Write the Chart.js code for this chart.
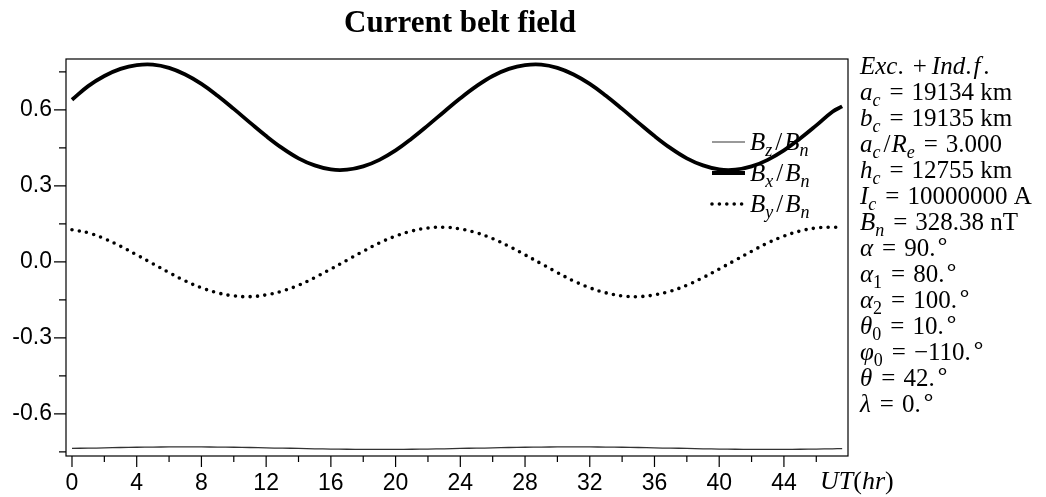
<!DOCTYPE html>
<html>
<head>
<meta charset="utf-8">
<script src="https://cdn.jsdelivr.net/npm/chart.js@4.4.0/dist/chart.umd.min.js"></script>
<style>
  html, body { margin: 0; background: #fff; }
</style>
</head>
<body>
<canvas id="beltChart" width="1046" height="497"></canvas>
<script>
// field components along the orbit, normalised by B_n
const hours = [0, 1, 2, 3, 4, 5, 6, 7, 8, 9, 10, 11, 12, 13, 14, 15, 16, 17, 18, 19, 20, 21, 22, 23,
  24, 25, 26, 27, 28, 29, 30, 31, 32, 33, 34, 35, 36, 37, 38, 39, 40, 41, 42, 43, 44, 45, 46, 47, 47.6];

const bzRatio = [-0.736, -0.735, -0.734, -0.7325, -0.7315, -0.7307, -0.7302, -0.730, -0.7302, -0.7307, -0.7315, -0.7325,
  -0.734, -0.735, -0.736, -0.7375, -0.7385, -0.7393, -0.7398, -0.740, -0.7398, -0.7393, -0.7385, -0.7375,
  -0.736, -0.735, -0.734, -0.7325, -0.7315, -0.7307, -0.7302, -0.730, -0.7302, -0.7307, -0.7315, -0.7325,
  -0.734, -0.735, -0.736, -0.7375, -0.7385, -0.7393, -0.7398, -0.740, -0.7398, -0.7393, -0.7385, -0.7375, -0.737];

const bxRatio = [0.640, 0.694, 0.734, 0.762, 0.777, 0.779, 0.766, 0.740, 0.703, 0.656, 0.604, 0.550,
  0.497, 0.449, 0.409, 0.381, 0.365, 0.364, 0.377, 0.403, 0.440, 0.487, 0.539, 0.593,
  0.646, 0.694, 0.734, 0.762, 0.777, 0.779, 0.766, 0.740, 0.703, 0.656, 0.604, 0.550,
  0.497, 0.449, 0.409, 0.381, 0.365, 0.364, 0.377, 0.403, 0.440, 0.487, 0.539, 0.593, 0.614];

const byRatio = [0.127, 0.115, 0.092, 0.062, 0.028, -0.007, -0.042, -0.075, -0.102, -0.122, -0.134, -0.137,
  -0.130, -0.115, -0.092, -0.062, -0.028, 0.007, 0.042, 0.075, 0.102, 0.122, 0.134, 0.137,
  0.130, 0.115, 0.092, 0.062, 0.028, -0.007, -0.042, -0.075, -0.102, -0.122, -0.134, -0.137,
  -0.130, -0.115, -0.092, -0.062, -0.028, 0.007, 0.042, 0.075, 0.102, 0.122, 0.134, 0.137, 0.135];

const xMajorTicks = [0, 4, 8, 12, 16, 20, 24, 28, 32, 36, 40, 44];
const xMinorTicks = [2, 6, 10, 14, 18, 22, 26, 30, 34, 38, 42, 46];
const yMajorTicks = [-0.6, -0.3, 0, 0.3, 0.6];
const yMinorTicks = [-0.75, -0.45, -0.15, 0.15, 0.45, 0.75];

const SERIF = '"Liberation Serif", "Times New Roman", serif';
const SANS = '"Liberation Sans", Arial, sans-serif';

// text runs: [text, style]; i = italic, r = roman, si/sr = subscripts,
// sup = raised ring, eq = spaced equals sign, g = blank gap of n px
const EQ = ['=', 'eq'];
const DEG = ['∘', 'sup'];
const paramLines = [
  [['Exc', 'i'], ['.', 'r'], ['', 'g', 9], ['+', 'r'], ['', 'g', 5], ['Ind', 'i'], ['.', 'r'], ['', 'g', 2], ['f', 'i'], ['', 'g', 3], ['.', 'r']],
  [['a', 'i'], ['c', 'si'], EQ, ['19134 km', 'r']],
  [['b', 'i'], ['c', 'si'], EQ, ['19135 km', 'r']],
  [['a', 'i'], ['c', 'si'], ['', 'g', 3], ['/', 'r'], ['', 'g', 1], ['R', 'i'], ['e', 'si'], EQ, ['3.000', 'r']],
  [['h', 'i'], ['c', 'si'], EQ, ['12755 km', 'r']],
  [['I', 'i'], ['c', 'si'], EQ, ['10000000 A', 'r']],
  [['B', 'i'], ['n', 'si'], EQ, ['328.38 nT', 'r']],
  [['α', 'i'], EQ, ['90.', 'r'], DEG],
  [['α', 'i'], ['1', 'sr'], EQ, ['80.', 'r'], DEG],
  [['α', 'i'], ['2', 'sr'], EQ, ['100.', 'r'], DEG],
  [['θ', 'i'], ['0', 'sr'], EQ, ['10.', 'r'], DEG],
  [['φ', 'i'], ['0', 'sr'], EQ, ['−110.', 'r'], DEG],
  [['θ', 'i'], EQ, ['42.', 'r'], DEG],
  [['λ', 'i'], EQ, ['0.', 'r'], DEG]
];

const ratio = sub => [['B', 'i'], [sub, 'si'], ['', 'g', 3], ['/', 'r'], ['', 'g', 2], ['B', 'i'], ['n', 'si']];
const legendItems = [
  { runs: ratio('z'), kind: 'thin' },
  { runs: ratio('x'), kind: 'thick' },
  { runs: ratio('y'), kind: 'dot' }
];

function drawRuns(ctx, x, y, runs, size) {
  ctx.textAlign = 'left';
  ctx.textBaseline = 'alphabetic';
  ctx.fillStyle = '#000';
  for (const [t, s, n] of runs) {
    if (s === 'g') { x += n; continue; }
    let fs = size, dy = 0, it = false;
    if (s === 'i') it = true;
    if (s === 'si' || s === 'sr') { fs = size * 0.72; dy = size * 0.24; it = s === 'si'; }
    if (s === 'sup') { fs = size * 0.95; dy = -size * 0.3; }
    if (s === 'eq') x += 9;
    ctx.font = (it ? 'italic ' : '') + fs + 'px ' + SERIF;
    ctx.fillText(t, x, y + dy);
    x += ctx.measureText(t).width;
    if (s === 'eq') x += 8;
  }
  return x;
}

const points = arr => hours.map((h, i) => ({ x: h, y: arr[i] }));

const decor = {
  id: 'decor',
  afterDraw(chart) {
    const ctx = chart.ctx;
    const a = chart.chartArea;
    const xs = chart.scales.x, ys = chart.scales.y;
    ctx.save();

    // frame
    ctx.strokeStyle = '#000';
    ctx.lineWidth = 1.2;
    ctx.strokeRect(a.left, a.top, a.right - a.left, a.bottom - a.top);

    // tick marks
    ctx.beginPath();
    yMajorTicks.forEach(v => { const p = ys.getPixelForValue(v); ctx.moveTo(a.left - 12, p); ctx.lineTo(a.left, p); });
    yMinorTicks.forEach(v => { const p = ys.getPixelForValue(v); ctx.moveTo(a.left - 7, p); ctx.lineTo(a.left, p); });
    xMajorTicks.forEach(v => { const p = xs.getPixelForValue(v); ctx.moveTo(p, a.bottom); ctx.lineTo(p, a.bottom + 11); });
    xMinorTicks.forEach(v => { const p = xs.getPixelForValue(v); ctx.moveTo(p, a.bottom); ctx.lineTo(p, a.bottom + 6); });
    ctx.stroke();

    // title
    ctx.font = 'bold 31px ' + SERIF;
    ctx.textAlign = 'center';
    ctx.textBaseline = 'alphabetic';
    ctx.fillStyle = '#000';
    ctx.fillText('Current belt field', (a.left + a.right) / 2 + 3, 32);

    // legend
    const lx0 = 712, lx1 = 745;
    legendItems.forEach((it, i) => {
      const base = 150 + i * 31;
      const ly = base - 8;
      ctx.save();
      ctx.beginPath();
      if (it.kind === 'thin') { ctx.strokeStyle = '#777'; ctx.lineWidth = 1.4; }
      if (it.kind === 'thick') { ctx.strokeStyle = '#000'; ctx.lineWidth = 3.8; }
      if (it.kind === 'dot') { ctx.strokeStyle = '#000'; ctx.lineWidth = 3.6; ctx.lineCap = 'round'; ctx.setLineDash([0, 7.4]); }
      ctx.moveTo(lx0, ly); ctx.lineTo(lx1, ly);
      ctx.stroke();
      ctx.restore();
      drawRuns(ctx, 750, base, it.runs, 25);
    });

    // parameter column
    paramLines.forEach((runs, i) => drawRuns(ctx, 860, 74 + i * 26, runs, 25));

    // axis name
    drawRuns(ctx, 820, 489, [['UT', 'i'], ['(', 'r'], ['hr', 'i'], [')', 'r']], 26);

    ctx.restore();
  }
};

new Chart(document.getElementById('beltChart'), {
  type: 'line',
  data: {
    datasets: [
      { label: 'Bz/Bn', data: points(bzRatio), borderColor: '#333', borderWidth: 1.3 },
      { label: 'Bx/Bn', data: points(bxRatio), borderColor: '#000', borderWidth: 3.8 },
      { label: 'By/Bn', data: points(byRatio), borderColor: '#000', borderWidth: 3.6,
        borderDash: [0, 7.4], borderCapStyle: 'round' }
    ]
  },
  options: {
    responsive: false,
    animation: false,
    devicePixelRatio: 1,
    layout: { padding: { top: 59, right: 198, left: 0, bottom: 0 } },
    elements: { point: { radius: 0 }, line: { tension: 0.4, fill: false } },
    plugins: { legend: { display: false }, tooltip: { enabled: false } },
    scales: {
      x: {
        type: 'linear',
        min: -0.37,
        max: 47.96,
        afterBuildTicks: ax => { ax.ticks = xMajorTicks.map(v => ({ value: v })); },
        afterFit: ax => { ax.height = 41; },
        grid: { color: 'rgba(0,0,0,0)', drawOnChartArea: false, tickLength: 11 },
        border: { display: false },
        ticks: { color: '#000', font: { family: SANS, size: 23 }, padding: 3, maxRotation: 0, autoSkip: false,
          callback: v => String(v) }
      },
      y: {
        min: -0.766,
        max: 0.801,
        afterBuildTicks: ax => { ax.ticks = yMajorTicks.map(v => ({ value: v })); },
        afterFit: ax => { ax.width = 66; },
        grid: { color: 'rgba(0,0,0,0)', drawOnChartArea: false, tickLength: 12 },
        border: { display: false },
        ticks: { color: '#000', font: { family: SANS, size: 23 }, padding: 2,
          callback: v => v.toFixed(1) }
      }
    }
  },
  plugins: [decor]
});
</script>
</body>
</html>
